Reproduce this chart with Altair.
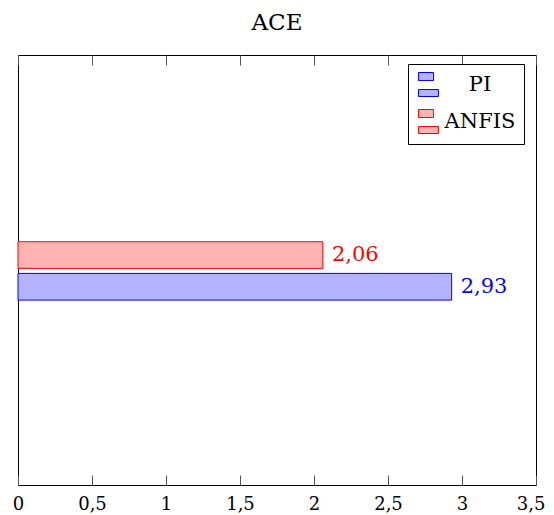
import altair as alt
import pandas as pd

title_text = "ACE"
series = ["PI", "ANFIS"]
values = [2.93, 2.06]
x_ticks = [0, 0.5, 1, 1.5, 2, 2.5, 3, 3.5]

fills = ["#b3b3ff", "#ffb3b3"]
strokes = ["#0000ff", "#ff0000"]

df = pd.DataFrame({"series": series, "value": values})

FONT = "DejaVu Serif"
W, H = 518, 430
xscale = alt.Scale(domain=[0, 3.5], nice=False, zero=True)
# band group (two bars) centred slightly below the middle of the plot
yscale = alt.Scale(domain=["ANFIS", "PI"], paddingInner=0.158, paddingOuter=0.079,
                   range=[184.2, 247.6])

sym_path = "M-0.83,-1H0.42V-0.33H-0.83Z M-0.83,0.42H0.83V1H-0.83Z"

legend = alt.Legend(
    title=None, orient="none", legendX=390, legendY=9,
    symbolType=sym_path, symbolSize=576, symbolStrokeWidth=1,
    labelFont=FONT, labelFontSize=21, labelColor="black",
    labelAlign="center", labelOffset=39,
    padding=8, rowPadding=8,
    strokeColor="black", fillColor="white", cornerRadius=0,
)

label_expr = "replace(toString(datum.value), '.', ',')"
last_tick = "datum.value == 3.5"

bars = alt.Chart(df).mark_bar(strokeWidth=1).encode(
    x=alt.X("value:Q", scale=xscale, axis=alt.Axis(
        values=x_ticks, orient="bottom", offset=-10, tickSize=10, domain=False,
        grid=False, labelExpr=label_expr, labelPadding=10, title=None,
        labelFlush=False, labelOverlap=False, labelFont=FONT, labelFontSize=18,
        labelAlign={"condition": {"test": last_tick, "value": "right"}, "value": "center"},
        labelOffset={"condition": {"test": last_tick, "value": 9}, "value": 0},
        labelColor="black", tickColor="#555555")),
    y=alt.Y("series:N", scale=yscale, axis=None),
    color=alt.Color("series:N", scale=alt.Scale(domain=series, range=fills), legend=legend),
    stroke=alt.Stroke("series:N", scale=alt.Scale(domain=series, range=strokes), legend=legend),
)

labels = alt.Chart(df).transform_calculate(
    label="replace(format(datum.value, '.2f'), '.', ',')"
).mark_text(align="left", baseline="middle", dx=9, font=FONT, fontSize=21).encode(
    x=alt.X("value:Q", scale=xscale, axis=alt.Axis(
        orient="top", values=x_ticks, labels=False, offset=-10, tickSize=10,
        domain=False, grid=False, title=None, tickColor="#555555")),
    y=alt.Y("series:N", scale=yscale, axis=None),
    text="label:N",
    fill=alt.Fill("series:N", scale=alt.Scale(domain=series, range=strokes), legend=None),
)

chart = alt.layer(bars, labels).resolve_axis(x="independent").properties(
    width=W, height=H,
    title=alt.Title(title_text, font=FONT, fontSize=23, fontWeight="normal",
                    anchor="middle", offset=20, color="black"),
    autosize=alt.AutoSizeParams(type="none"),
    padding={"left": 10, "top": 47, "right": 10, "bottom": 29},
).configure_view(stroke="black", strokeWidth=1)

chart.save("out.html", embed_options={"renderer": "svg", "actions": False})
